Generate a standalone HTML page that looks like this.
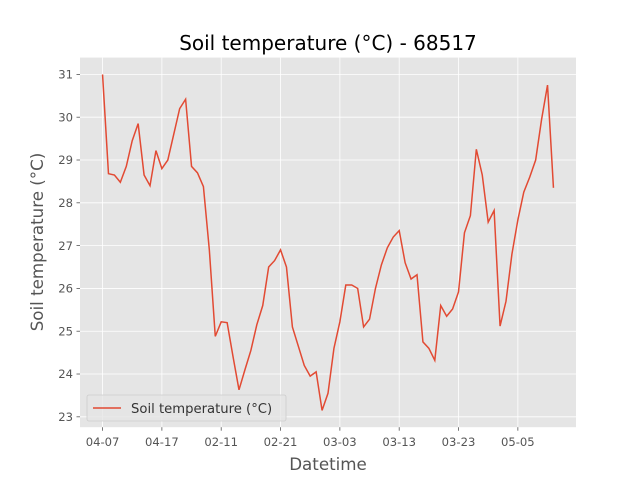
<!DOCTYPE html>
<html><head><meta charset="utf-8"><style>
body{margin:0;background:#fff;font-family:"Liberation Sans","DejaVu Sans",sans-serif}
svg text{font-family:"DejaVu Sans","Liberation Sans",sans-serif}
</style></head><body>
<svg id="chart" width="640" height="480" viewBox="0 0 640 480" xmlns="http://www.w3.org/2000/svg">
<rect width="640" height="480" fill="#fff"/>
<rect x="80" y="57.6" width="496" height="369.6" fill="#e5e5e5"/>
<g id="grid"></g>
<g id="ticks"></g>
<polyline id="line" fill="none" stroke="#e24a33" stroke-width="1.5"/>
<text x="328" y="50" text-anchor="middle" font-size="20" fill="#000">Soil temperature (°C) - 68517</text>
<text x="328" y="470" text-anchor="middle" font-size="16.7" fill="#555">Datetime</text>
<text transform="translate(43,242) rotate(-90)" text-anchor="middle" font-size="16.7" fill="#555">Soil temperature (°C)</text>
<g>
<rect x="87" y="395" width="199" height="26" rx="2" fill="#e5e5e5" fill-opacity="0.8" stroke="#ccc" stroke-width="0.8"/>
<line x1="93" y1="408" x2="121" y2="408" stroke="#e24a33" stroke-width="1.5"/>
<text x="131" y="413" font-size="13.2" fill="#333">Soil temperature (°C)</text>
</g>
</svg>
<script>
const values = [31.0,28.68,28.65,28.48,28.85,29.45,29.85,28.65,28.4,29.22,28.8,29.0,29.6,30.2,30.42,28.85,28.7,28.38,26.9,24.88,25.22,25.2,24.4,23.63,24.1,24.55,25.15,25.6,26.5,26.65,26.9,26.5,25.1,24.65,24.2,23.95,24.05,23.15,23.55,24.6,25.22,26.08,26.08,26.0,25.1,25.28,26.0,26.55,26.95,27.2,27.35,26.6,26.22,26.32,24.75,24.6,24.32,25.6,25.35,25.52,25.92,27.3,27.7,29.25,28.65,27.55,27.82,25.12,25.7,26.8,27.6,28.25,28.6,29.0,29.95,30.75,28.35];
const xTickIdx = [0,10,20,30,40,50,60,70];
const xTickLabels = ["04-07","04-17","02-11","02-21","03-03","03-13","03-23","05-05"];
const yTicks = [23,24,25,26,27,28,29,30,31];

const L=80,R=576,T=57.6,B=427.2;
const n=values.length;
const xmin=-(n-1)*0.05, xmax=(n-1)*1.05;
const vmin=Math.min(...values), vmax=Math.max(...values), pad=(vmax-vmin)*0.05;
const ymin=vmin-pad, ymax=vmax+pad;
const sx=i=>L+(i-xmin)/(xmax-xmin)*(R-L);
const sy=v=>B-(v-ymin)/(ymax-ymin)*(B-T);
const NS="http://www.w3.org/2000/svg";
const grid=document.getElementById('grid'), ticks=document.getElementById('ticks');
function mk(tag,attrs,parent){const e=document.createElementNS(NS,tag);for(const k in attrs)e.setAttribute(k,attrs[k]);parent.appendChild(e);return e;}
yTicks.forEach(v=>{
  const y=sy(v);
  const g=mk('line',{x1:L,x2:R,y1:y,y2:y,stroke:'#fff','stroke-width':0.8},grid);
  
  
  mk('line',{x1:L-3.5,x2:L,y1:y,y2:y,stroke:'#555','stroke-width':0.8},ticks);
  const t=mk('text',{x:L-7,y:y+4.2,'text-anchor':'end','font-size':11.6,fill:'#555'},ticks);
  t.textContent=v;
  
  
});
xTickIdx.forEach((i,k)=>{
  const x=sx(i);
  const g=mk('line',{x1:x,x2:x,y1:T,y2:B,stroke:'#fff','stroke-width':0.8},grid);
  
  
  mk('line',{x1:x,x2:x,y1:B,y2:B+3.5,stroke:'#555','stroke-width':0.8},ticks);
  const t=mk('text',{x:x,y:B+19,'text-anchor':'middle','font-size':11.6,fill:'#555'},ticks);
  t.textContent=xTickLabels[k];
  
  
});
document.getElementById('line').setAttribute('points',values.map((v,i)=>sx(i).toFixed(2)+','+sy(v).toFixed(2)).join(' '));
</script>
</body></html>
